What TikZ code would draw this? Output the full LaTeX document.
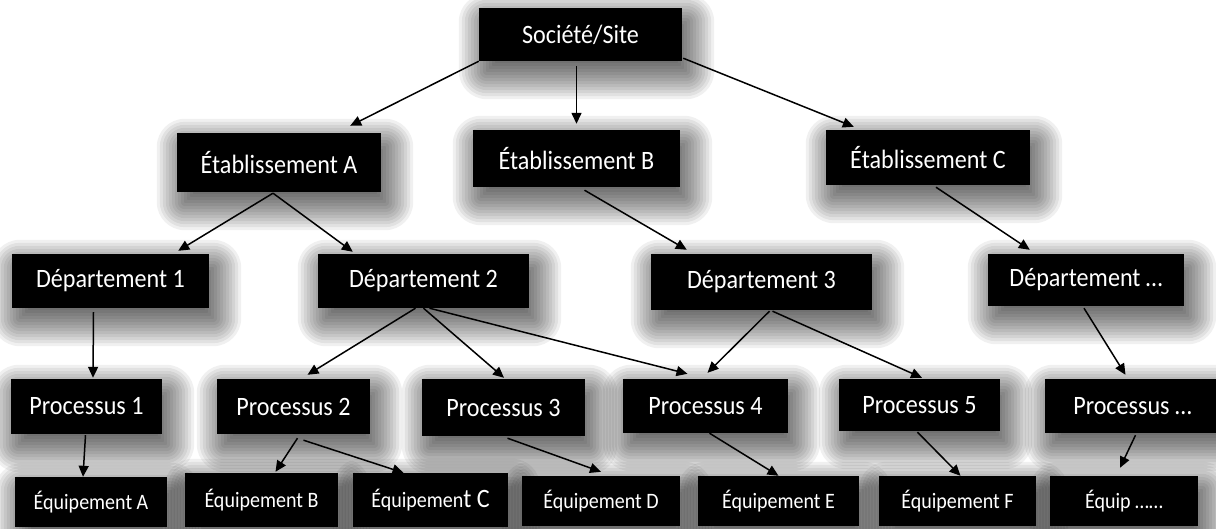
\documentclass[tikz,border=0pt]{standalone}
\usepackage{fontspec}
\setmainfont{Carlito}[FakeStretch=0.91]
\usetikzlibrary{arrows.meta,backgrounds}
\begin{document}
\begin{tikzpicture}[x=1pt,y=-1pt,
  box/.style={fill=black,text=white,inner sep=0pt,font=\fontsize{26.5}{30}\selectfont},
  eqbox/.style={box,font=\fontsize{22}{26}\selectfont},
  arr/.style={line width=1.5pt,-{Triangle[length=11pt,width=10pt]}},
]
\useasboundingbox (0,0) rectangle (1216,529);
% level 0
\node[box,minimum width=203pt,minimum height=53pt] (soc) at (580.5,34.5) {Société/Site};
% level 1
\node[box,minimum width=204pt,minimum height=59pt] (ea) at (279,162.5) {Établissement A};
\node[box,minimum width=207pt,minimum height=57pt] (eb) at (576.5,158.5) {Établissement B};
\node[box,minimum width=204pt,minimum height=55pt] (ec) at (928,157.5) {Établissement C};
% level 2
\node[box,minimum width=197pt,minimum height=54pt] (d1) at (110.5,281) {Département 1};
\node[box,minimum width=211pt,minimum height=54pt] (d2) at (423.5,281) {Département 2};
\node[box,minimum width=221pt,minimum height=56pt] (d3) at (761.5,282) {Département 3};
\node[box,minimum width=196pt,minimum height=52pt] (dx) at (1086,280) {Département …};
% level 3
\node[box,minimum width=151pt,minimum height=55pt] (p1) at (86.5,406.5) {Processus 1};
\node[box,minimum width=153pt,minimum height=55pt] (p2) at (293.5,406.5) {Processus 2};
\node[box,minimum width=163pt,minimum height=57pt] (p3) at (503.5,407.5) {Processus 3};
\node[box,minimum width=165pt,minimum height=54pt] (p4) at (705.5,406) {Processus 4};
\node[box,minimum width=161pt,minimum height=52pt] (p5) at (919.5,405) {Processus 5};
\node[box,minimum width=175pt,minimum height=54pt] (px) at (1132.5,406) {Processus …};
% level 4
\node[eqbox,minimum width=152pt,minimum height=50pt] (eqa) at (91,502) {Équipement A};
\node[eqbox,minimum width=153pt,minimum height=54pt] (eqb) at (261.5,500) {Équipement B};
\node[eqbox,minimum width=155pt,minimum height=54pt] (eqc) at (430.5,500) {{\fontsize{22}{26}\selectfont Équipemen}{\fontsize{26.5}{30}\selectfont t C}};
\node[eqbox,minimum width=158pt,minimum height=50pt] (eqd) at (601,501) {Équipement D};
\node[eqbox,minimum width=161pt,minimum height=50pt] (eqe) at (778.5,501) {Équipement E};
\node[eqbox,minimum width=157pt,minimum height=50pt] (eqf) at (957.5,501) {Équipement F};
\node[eqbox,minimum width=148pt,minimum height=50pt] (eqx) at (1124,501) {Équip ……};
% shadows
\begin{pgfonlayer}{background}
\fill[white] (0,0) rectangle (1216,529);
\foreach \n in {soc,ea,eb,ec,d1,d2,d3,dx,p1,p2,p3,p4,p5,px,eqa,eqb,eqc,eqd,eqe,eqf,eqx}{
  \foreach \i in {0,...,12}{
    \pgfmathsetmacro\r{-10+3*\i}
    \pgfmathsetmacro\c{max(\r,0)+2}
    \fill[black,opacity=0.06,rounded corners=\c pt]
      ([shift={(6-\r,12-\r)}]\n.north west) rectangle ([shift={(6+\r,12+\r)}]\n.south east);
  }
}
\end{pgfonlayer}
% connectors
\draw[arr] (soc.south west) -- ([shift={(-31,-7)}]ea.north east);
\draw[arr] ([shift={(-4,5)}]soc.south) -- ([shift={(0,-6)}]eb.north);
\draw[arr] ([shift={(1,-3)}]soc.south east) -- ([shift={(28,-3)}]ec.north west);
\draw[arr] ([shift={(-6,1)}]ea.south) -- ([shift={(-31,-3)}]d1.north east);
\draw[arr] ([shift={(-6,1)}]ea.south) -- ([shift={(35,-2)}]d2.north west);
\draw[arr] ([shift={(8,3)}]eb.south) -- ([shift={(36,-4)}]d3.north west);
\draw[arr] ([shift={(8,2)}]ec.south) -- ([shift={(42,-4)}]dx.north west);
\draw[arr] ([shift={(-17,4)}]d1.south) -- ([shift={(6.5,-1)}]p1.north);
\draw[arr] ([shift={(-8,0)}]d2.south) -- ([shift={(14,-4)}]p2.north);
\draw[arr] (d2.south) -- ([shift={(0.5,-1)}]p3.north);
\draw[arr] ([shift={(6,0)}]d2.south) -- ([shift={(-18,-5)}]p4.north);
\draw[arr] ([shift={(8,1)}]d3.south) -- ([shift={(2,-6)}]p4.north);
\draw[arr] ([shift={(11,1)}]d3.south) -- ([shift={(2.5,-1)}]p5.north);
\draw[arr] ([shift={(-2,2)}]dx.south) -- ([shift={(-7,-4)}]px.north);
\draw[arr] ([shift={(-1,1)}]p1.south) -- ([shift={(-8,0)}]eqa.north);
\draw[arr] ([shift={(4,4)}]p2.south) -- ([shift={(14,-1)}]eqb.north);
\draw[arr] ([shift={(10,6)}]p2.south) -- ([shift={(-27,0)}]eqc.north);
\draw[arr] ([shift={(4,2)}]p3.south) -- ([shift={(0,-4)}]eqd.north);
\draw[arr] ([shift={(4,0)}]p4.south) -- (eqe.north);
\draw[arr] ([shift={(-2,1)}]p5.south) -- ([shift={(3,0)}]eqf.north);
\draw[arr] ([shift={(3,2)}]px.south) -- ([shift={(-4,-8)}]eqx.north);
\end{tikzpicture}
\end{document}
